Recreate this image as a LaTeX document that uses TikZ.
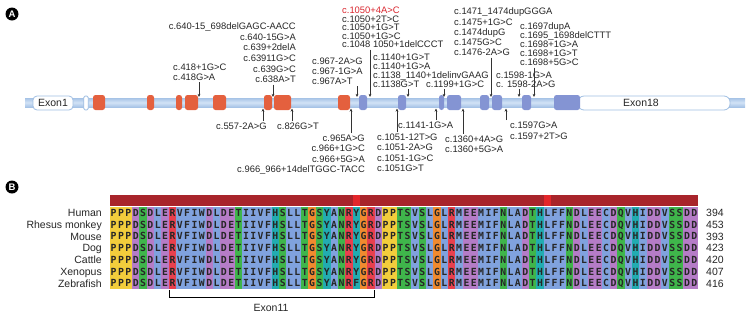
\documentclass[tikz,border=0pt]{standalone}
\usepackage{fontspec}
\setmainfont{Liberation Sans}
\newfontfamily\resfont{DejaVu Sans Mono}
\usetikzlibrary{arrows.meta}
\definecolor{exonred}{HTML}{E4603E}
\definecolor{exonblue}{HTML}{8494D3}
\definecolor{barmid}{HTML}{D2E3F6}
\definecolor{baredge}{HTML}{A6C3E6}
\definecolor{boxedge}{HTML}{9FBEE2}
\definecolor{mutred}{HTML}{D9262E}
\definecolor{consdark}{HTML}{A8242B}
\definecolor{conshigh}{HTML}{E3262B}
\definecolor{aayellow}{HTML}{F2CD3C}
\definecolor{aapurple}{HTML}{B57CC7}
\definecolor{aagreen}{HTML}{3FB54B}
\definecolor{aablue}{HTML}{80A2DE}
\definecolor{aared}{HTML}{E8404E}
\definecolor{aaorange}{HTML}{F08A2F}
\definecolor{aateal}{HTML}{22ACB1}
\colorlet{resP}{aayellow}
\colorlet{resD}{aapurple}\colorlet{resE}{aapurple}
\colorlet{resS}{aagreen}\colorlet{resT}{aagreen}\colorlet{resN}{aagreen}\colorlet{resQ}{aagreen}
\colorlet{resL}{aablue}\colorlet{resV}{aablue}\colorlet{resF}{aablue}\colorlet{resI}{aablue}
\colorlet{resW}{aablue}\colorlet{resA}{aablue}\colorlet{resM}{aablue}\colorlet{resC}{aablue}
\colorlet{resR}{aared}
\colorlet{resG}{aaorange}
\colorlet{resH}{aateal}\colorlet{resY}{aateal}
\newcommand{\seqhuman}{P,P,P,D,S,D,L,E,R,V,F,I,W,D,L,D,E,T,I,I,V,F,H,S,L,L,T,G,S,Y,A,N,R,Y,G,R,D,P,P,T,S,V,S,L,G,L,R,M,E,E,M,I,F,N,L,A,D,T,H,L,F,F,N,D,L,E,E,C,D,Q,V,H,I,D,D,V,S,S,D,D}
\newcommand{\seqzebra}{P,P,P,D,S,D,L,E,R,V,F,I,W,D,L,D,E,T,I,I,V,F,H,S,L,L,T,G,S,Y,A,N,R,F,G,R,D,P,P,T,S,V,S,L,G,L,R,M,E,E,M,I,F,N,L,A,D,T,H,F,F,F,N,D,L,E,E,C,D,Q,V,H,I,D,D,V,S,S,D,D}
\newcommand{\mutfont}[1]{\fontsize{9.4}{#1}\selectfont}

\begin{document}
\lineskiplimit=-9pt
\begin{tikzpicture}[x=1pt, y=-1pt,
  mut/.style={inner sep=0, text=black!85, font=\mutfont{#1}},
  sp/.style={inner sep=0, text=black!85, text height=7.6pt, text depth=0pt, font=\fontsize{10.5}{10.5}\selectfont},
  aa/.style={inner sep=0, text=black!85, text height=7pt, text depth=0pt, font=\resfont\bfseries\fontsize{9.8}{9.8}\selectfont},
  exbox/.style={draw=boxedge, line width=0.8pt, fill=white, rounded corners=4pt, minimum height=14pt, inner sep=0, text=black!85, font=\fontsize{10.5}{10.5}\selectfont},
  tag/.style={circle, fill=black, text=white, inner sep=0, minimum size=13pt, font=\bfseries\fontsize{9.5}{9.5}\selectfont},
  arr/.style={-{Stealth[length=3.2pt,width=2.8pt]}, line width=0.6pt, black!80, shorten <=1.5pt},
  brk/.style={line width=0.9pt, black}]
\useasboundingbox (0,0) rectangle (751,317);

\node[tag] (tagA) at (12,14) {A};
\node[tag] (tagB) at (12,187) {B};

\shade[top color=baredge, bottom color=baredge, middle color=barmid] (25,98) rectangle (745,107);
\node[exbox, minimum width=40pt] (ex1) at (53,103) {Exon1};
\node[exbox, minimum width=4.5pt, rounded corners=1.5pt] (ex1b) at (86,103) {};
\node[exbox, minimum width=152pt, rounded corners=6pt] (ex18) at (654,103) {};
\node[sp] (ex18lbl) at (641,103) {Exon18};
\foreach \a/\b in {93/105,147/154,176/182,185/198,213/226,264/272,274/291,338/350}
  \fill[exonred, rounded corners=2.5pt] (\a,95) rectangle (\b,110);
\foreach \a/\b in {359/367,398/406,439/444,447/461,480/489,492/502,522/531,554/580}
  \fill[exonblue, rounded corners=2.5pt] (\a,95) rectangle (\b,110);

\node[mut=10.6, align=right, anchor=north east] (s640) at (296,22.7) {c.640-15\_698delGAGC-AACC\\c.640-15G>A\\c.639+2delA\\c.63911G>C\\c.639G>C\\c.638A>T};
\node[mut=10, align=left, anchor=north west] (s418) at (173,63.7) {c.418+1G>C\\c.418G>A};
\node[mut=10, align=left, anchor=north west] (s967) at (312,57.7) {c.967-2A>G\\c.967-1G>A\\c.967A>T};
\node[mut=8.6, align=left, anchor=north west] (s1050) at (342,6.7) {\textcolor{mutred}{c.1050+4A>C}\\c.1050+2T>C\\c.1050+1G>T\\c.1050+1G>C\\c.1048 1050+1delCCCT};
\node[mut=9, align=left, anchor=north west] (s1140) at (373,53.7) {c.1140+1G>T\\c.1140+1G>A\\c.1138\_1140+1delinvGAAG\\c.1138G>T};
\node[mut=9, align=left, anchor=north west] (s1199) at (426,80.7) {c.1199+1G>C};
\node[mut=10.3, align=left, anchor=north west] (s1471) at (454,7.7) {c.1471\_1474dupGGGA\\c.1475+1G>C\\c.1474dupG\\c.1475G>C\\c.1476-2A>G};
\node[mut=9, align=left, anchor=north west] (s1598) at (496,71.7) {c.1598-1G>A\\c. 1598-2A>G};
\node[mut=9, align=left, anchor=north west] (s1697) at (520,22.7) {c.1697dupA\\c.1695\_1698delCTTT\\c.1698+1G>A\\c.1698+1G>T\\c.1698+5G>C};

\node[mut=10, align=left, anchor=north west] (s557) at (216,122.7) {c.557-2A>G};
\node[mut=10, align=left, anchor=north west] (s826) at (277,122.7) {c.826G>T};
\node[mut=10.3, align=right, anchor=north east] (s965) at (365,134.7) {c.965A>G\\c.966+1G>C\\c.966+5G>A\\c.966\_966+14delTGGC-TACC};
\node[mut=10.3, align=left, anchor=north west] (s1051) at (377,133.7) {c.1051-12T>G\\c.1051-2A>G\\c.1051-1G>C\\c.1051G>T};
\node[mut=10, align=left, anchor=north west] (s1141) at (398,121.7) {c.1141-1G>A};
\node[mut=10, align=left, anchor=north west] (s1360) at (445,135.7) {c.1360+4A>G\\c.1360+5G>A};
\node[mut=11, align=left, anchor=north west] (s1597) at (510,121.7) {c.1597G>A\\c.1597+2T>G};

\foreach \n/\x in {640/273,418/199,967/357,1050/370,1140/408,1199/444,1471/491,1598/519,1697/534}{
  \coordinate (t\n) at (\x,97);
  \draw[arr] (s\n.south -| t\n) -- (t\n);
}
\foreach \n/\x in {557/263,826/292,965/351,1051/397,1141/436,1360/463,1597/506}{
  \coordinate (t\n) at (\x,108.5);
  \draw[arr] (s\n.north -| t\n) -- (t\n);
}

\fill[consdark] (110,195) rectangle (698,206);
\fill[conshigh] (352.6,195) rectangle +(7.35,11);
\fill[conshigh] (543.7,195) rectangle +(7.35,11);
\foreach \r [count=\i] in \seqhuman
  \fill[res\r] ({110+(\i-1)*7.35},207) rectangle +(7.45,82);
\foreach \k in {1,...,6}{
  \foreach \r [count=\i] in \seqhuman
    \node[aa] (a\k-\i) at ({106.325+\i*7.35},{201.125+\k*11.75}) {\r};
}
\foreach \r [count=\i] in \seqzebra
  \node[aa] (a7-\i) at ({106.325+\i*7.35},283.375) {\r};
\foreach \sp/\len [count=\k] in {Human/394, Rhesus monkey/453, Mouse/393, Dog/423, Cattle/420, Xenopus/407, Zebrafish/416}{
  \node[sp, anchor=east] (sp\k) at (102,{201.125+\k*11.75}) {\sp};
  \node[sp, anchor=west] (len\k) at (706,{201.125+\k*11.75}) {\len};
}

\coordinate (exL) at (169,290);
\coordinate (exR) at (374,290);
\draw[brk] (exL) -- ++(0,7) -| (exR);
\node[sp] (ex11) at (271,308) {Exon11};
\end{tikzpicture}
\end{document}
